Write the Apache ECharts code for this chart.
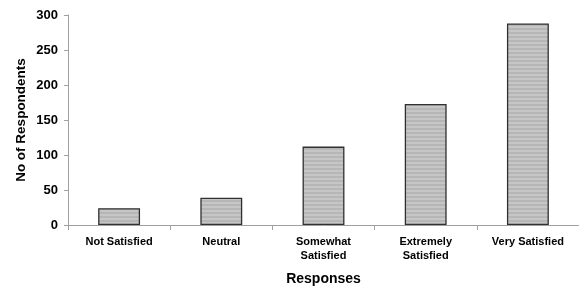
<!DOCTYPE html>
<html><head><meta charset="utf-8">
<script src="https://cdn.jsdelivr.net/npm/echarts@6/dist/echarts.min.js"></script>
<style>html,body{margin:0;padding:0;background:#fff}#c{width:579px;height:291px}</style>
</head><body><div id="c"></div>
<script>
const categories = ['Not Satisfied', 'Neutral', 'Somewhat\nSatisfied', 'Extremely\nSatisfied', 'Very Satisfied'];
const values = [24, 39, 112, 173, 288];
const yTicks = [0, 50, 100, 150, 200, 250, 300];

const pc = document.createElement('canvas');
pc.width = 4; pc.height = 4;
const g = pc.getContext('2d');
g.fillStyle = '#c6c6c6'; g.fillRect(0,0,4,4);
g.fillStyle = '#b6b6b6'; g.fillRect(0,0,4,2);

const chart = echarts.init(document.getElementById('c'), null, {renderer:'canvas'});
chart.setOption({
  animation:false,
  grid:{left:68, right:0, top:15, bottom:65, containLabel:false},
  xAxis:{type:'category', data:categories,
    name:'Responses', nameLocation:'middle', nameGap:47, nameMoveOverlap:false,
    nameTextStyle:{fontFamily:'Liberation Sans', fontWeight:'bold', fontSize:14, color:'#000'},
    axisLine:{lineStyle:{color:'#a0a0a0'}},
    axisTick:{show:true, length:5, lineStyle:{color:'#a0a0a0'}},
    axisLabel:{fontFamily:'Liberation Sans', fontWeight:'bold', fontSize:11, color:'#000', margin:10, lineHeight:14, interval:0}
  },
  yAxis:{type:'value', min:0, max:300, interval:50,
    name:'No of Respondents', nameLocation:'middle', nameGap:40, nameRotate:90, nameMoveOverlap:false,
    nameTextStyle:{fontFamily:'Liberation Sans', fontWeight:'bold', fontSize:13.5, color:'#000'},
    axisLine:{show:true, lineStyle:{color:'#a0a0a0'}},
    axisTick:{show:true, length:4, lineStyle:{color:'#a0a0a0'}},
    splitLine:{show:false},
    axisLabel:{fontFamily:'Liberation Sans', fontWeight:'bold', fontSize:13, color:'#000', margin:10,
      formatter: v => yTicks.includes(v) ? String(v) : ''}
  },
  series:[{type:'bar', data:values, barWidth:'41%',
    itemStyle:{color:{image:pc, repeat:'repeat'}, borderColor:'#303030', borderWidth:1.3}
  }]
});
</script></body></html>
